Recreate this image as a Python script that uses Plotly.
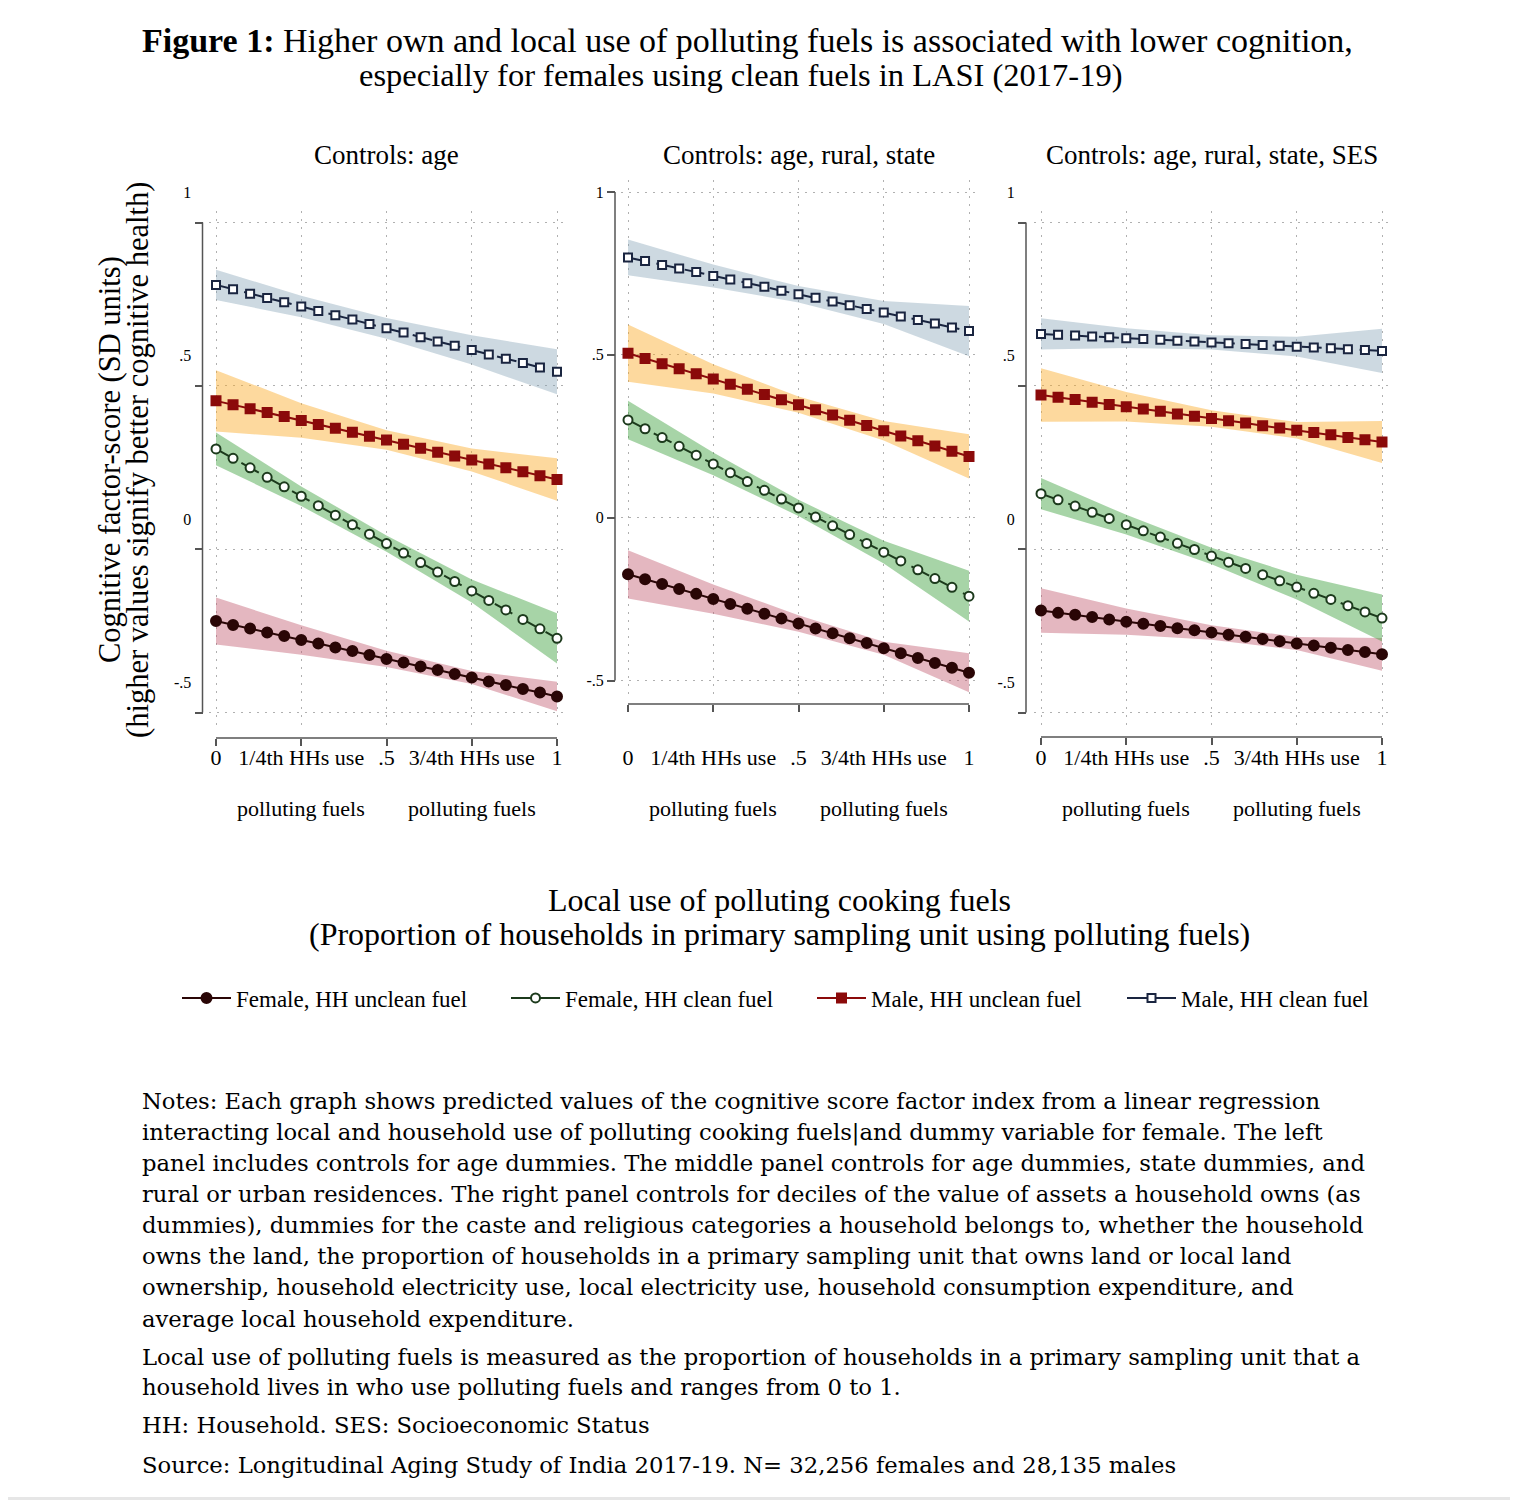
import plotly.graph_objects as go

# ---------------- DATA ----------------
X_LOCAL = [0.00, 0.05, 0.10, 0.15, 0.20, 0.25, 0.30, 0.35, 0.40, 0.45, 0.50,
           0.55, 0.60, 0.65, 0.70, 0.75, 0.80, 0.85, 0.90, 0.95, 1.00]
X_CI = [0.00, 0.25, 0.50, 0.75, 1.00]

X_TICKS = [0, 0.25, 0.5, 0.75, 1]
X_TICK_LABELS = ["0", "1/4th HHs use", ".5", "3/4th HHs use", "1"]
X_TICK_SUBLABELS = ["polluting fuels", "polluting fuels"]
X_TICK_SUB_AT = [0.25, 0.75]
Y_TICKS = [-0.5, 0, 0.5, 1]
Y_TICK_LABELS = ["-.5", "0", ".5", "1"]

PANEL_TITLES = ["Controls: age", "Controls: age, rural, state", "Controls: age, rural, state, SES"]
SERIES_NAMES = ["Female, HH unclean fuel", "Female, HH clean fuel", "Male, HH unclean fuel", "Male, HH clean fuel"]

# Panel 1: Controls: age
P1_FEM_UNCLEAN = [-0.220, -0.232, -0.243, -0.255, -0.266, -0.278, -0.289, -0.301, -0.312, -0.324, -0.336,
                  -0.347, -0.359, -0.370, -0.382, -0.393, -0.405, -0.416, -0.428, -0.439, -0.451]
P1_FEM_UNCLEAN_HI = [-0.148, -0.233, -0.311, -0.373, -0.406]
P1_FEM_UNCLEAN_LO = [-0.292, -0.323, -0.361, -0.413, -0.496]
P1_FEM_CLEAN = [0.307, 0.278, 0.249, 0.220, 0.191, 0.162, 0.133, 0.104, 0.075, 0.046, 0.017,
                -0.012, -0.041, -0.070, -0.099, -0.128, -0.157, -0.186, -0.215, -0.244, -0.273]
P1_FEM_CLEAN_HI = [0.357, 0.192, 0.042, -0.093, -0.196]
P1_FEM_CLEAN_LO = [0.257, 0.132, -0.008, -0.163, -0.350]
P1_MALE_UNCLEAN = [0.454, 0.442, 0.430, 0.418, 0.406, 0.394, 0.382, 0.370, 0.358, 0.346, 0.334,
                   0.321, 0.309, 0.297, 0.285, 0.273, 0.261, 0.249, 0.237, 0.225, 0.213]
P1_MALE_UNCLEAN_HI = [0.548, 0.447, 0.364, 0.308, 0.278]
P1_MALE_UNCLEAN_LO = [0.360, 0.341, 0.304, 0.238, 0.148]
P1_MALE_CLEAN = [0.809, 0.796, 0.782, 0.769, 0.756, 0.743, 0.729, 0.716, 0.703, 0.689, 0.676,
                 0.663, 0.649, 0.636, 0.623, 0.610, 0.596, 0.583, 0.570, 0.556, 0.543]
P1_MALE_CLEAN_HI = [0.855, 0.776, 0.708, 0.655, 0.612]
P1_MALE_CLEAN_LO = [0.763, 0.710, 0.644, 0.565, 0.474]

# Panel 2: Controls: age, rural, state
P2_FEM_UNCLEAN = [-0.174, -0.189, -0.204, -0.219, -0.234, -0.250, -0.265, -0.280, -0.295, -0.310, -0.325,
                  -0.340, -0.355, -0.370, -0.385, -0.401, -0.416, -0.431, -0.446, -0.461, -0.476]
P2_FEM_UNCLEAN_HI = [-0.100, -0.205, -0.300, -0.381, -0.416]
P2_FEM_UNCLEAN_LO = [-0.248, -0.295, -0.350, -0.421, -0.536]
P2_FEM_CLEAN = [0.300, 0.273, 0.246, 0.219, 0.192, 0.165, 0.138, 0.111, 0.084, 0.057, 0.030,
                0.002, -0.025, -0.052, -0.079, -0.106, -0.133, -0.160, -0.187, -0.214, -0.241]
P2_FEM_CLEAN_HI = [0.359, 0.200, 0.055, -0.071, -0.163]
P2_FEM_CLEAN_LO = [0.241, 0.130, 0.005, -0.141, -0.319]
P2_MALE_UNCLEAN = [0.505, 0.489, 0.473, 0.457, 0.442, 0.426, 0.410, 0.394, 0.378, 0.362, 0.347,
                   0.331, 0.315, 0.299, 0.283, 0.267, 0.251, 0.236, 0.220, 0.204, 0.188]
P2_MALE_UNCLEAN_HI = [0.593, 0.471, 0.372, 0.297, 0.256]
P2_MALE_UNCLEAN_LO = [0.417, 0.381, 0.322, 0.237, 0.120]
P2_MALE_CLEAN = [0.799, 0.788, 0.776, 0.765, 0.754, 0.742, 0.731, 0.720, 0.709, 0.697, 0.686,
                 0.675, 0.664, 0.652, 0.641, 0.630, 0.618, 0.607, 0.596, 0.584, 0.573]
P2_MALE_CLEAN_HI = [0.854, 0.777, 0.711, 0.665, 0.650]
P2_MALE_CLEAN_LO = [0.744, 0.707, 0.661, 0.595, 0.496]

# Panel 3: Controls: age, rural, state, SES
P3_FEM_UNCLEAN = [-0.188, -0.195, -0.201, -0.208, -0.215, -0.222, -0.228, -0.235, -0.242, -0.248, -0.255,
                  -0.262, -0.268, -0.275, -0.282, -0.289, -0.295, -0.302, -0.309, -0.315, -0.322]
P3_FEM_UNCLEAN_HI = [-0.120, -0.182, -0.233, -0.269, -0.272]
P3_FEM_UNCLEAN_LO = [-0.256, -0.262, -0.277, -0.309, -0.372]
P3_FEM_CLEAN = [0.170, 0.151, 0.132, 0.113, 0.094, 0.075, 0.056, 0.037, 0.018, -0.001, -0.021,
                -0.040, -0.059, -0.078, -0.097, -0.116, -0.135, -0.154, -0.173, -0.192, -0.211]
P3_FEM_CLEAN_HI = [0.218, 0.105, 0.004, -0.078, -0.139]
P3_FEM_CLEAN_LO = [0.122, 0.045, -0.046, -0.154, -0.283]
P3_MALE_UNCLEAN = [0.472, 0.465, 0.458, 0.450, 0.443, 0.436, 0.429, 0.422, 0.414, 0.407, 0.400,
                   0.393, 0.386, 0.378, 0.371, 0.364, 0.357, 0.350, 0.342, 0.335, 0.328]
P3_MALE_UNCLEAN_HI = [0.554, 0.481, 0.425, 0.389, 0.392]
P3_MALE_UNCLEAN_LO = [0.390, 0.391, 0.375, 0.339, 0.264]
P3_MALE_CLEAN = [0.659, 0.656, 0.654, 0.651, 0.649, 0.646, 0.643, 0.641, 0.638, 0.636, 0.633,
                 0.630, 0.628, 0.625, 0.623, 0.620, 0.617, 0.615, 0.612, 0.610, 0.607]
P3_MALE_CLEAN_HI = [0.707, 0.676, 0.655, 0.650, 0.675]
P3_MALE_CLEAN_LO = [0.611, 0.616, 0.611, 0.590, 0.539]

PANEL_DATA = [
    [(P1_FEM_UNCLEAN, P1_FEM_UNCLEAN_LO, P1_FEM_UNCLEAN_HI), (P1_FEM_CLEAN, P1_FEM_CLEAN_LO, P1_FEM_CLEAN_HI),
     (P1_MALE_UNCLEAN, P1_MALE_UNCLEAN_LO, P1_MALE_UNCLEAN_HI), (P1_MALE_CLEAN, P1_MALE_CLEAN_LO, P1_MALE_CLEAN_HI)],
    [(P2_FEM_UNCLEAN, P2_FEM_UNCLEAN_LO, P2_FEM_UNCLEAN_HI), (P2_FEM_CLEAN, P2_FEM_CLEAN_LO, P2_FEM_CLEAN_HI),
     (P2_MALE_UNCLEAN, P2_MALE_UNCLEAN_LO, P2_MALE_UNCLEAN_HI), (P2_MALE_CLEAN, P2_MALE_CLEAN_LO, P2_MALE_CLEAN_HI)],
    [(P3_FEM_UNCLEAN, P3_FEM_UNCLEAN_LO, P3_FEM_UNCLEAN_HI), (P3_FEM_CLEAN, P3_FEM_CLEAN_LO, P3_FEM_CLEAN_HI),
     (P3_MALE_UNCLEAN, P3_MALE_UNCLEAN_LO, P3_MALE_UNCLEAN_HI), (P3_MALE_CLEAN, P3_MALE_CLEAN_LO, P3_MALE_CLEAN_HI)],
]

TITLE_LINE1 = "<b>Figure 1:</b> Higher own and local use of polluting fuels is associated with lower cognition,"
TITLE_LINE2 = "especially for females using clean fuels in LASI (2017-19)"
Y_TITLE = ["Cognitive factor-score (SD units)", "(higher values signify better cognitive health)"]
X_TITLE = ["Local use of polluting cooking fuels",
           "(Proportion of households in primary sampling unit using polluting fuels)"]
NOTES_LINES = [
    "Notes: Each graph shows predicted values of the cognitive score factor index from a linear regression",
    "interacting local and household use of polluting cooking fuels|and dummy variable for female. The left",
    "panel includes controls for age dummies. The middle panel controls for age dummies, state dummies, and",
    "rural or urban residences. The right panel controls for deciles of the value of assets a household owns (as",
    "dummies), dummies for the caste and religious categories a household belongs to, whether the household",
    "owns the land, the proportion of households in a primary sampling unit that owns land or local land",
    "ownership, household electricity use, local electricity use, household consumption expenditure, and",
    "average local household expenditure.",
    "Local use of polluting fuels is measured as the proportion of households in a primary sampling unit that a",
    "household lives in who use polluting fuels and ranges from 0 to 1.",
    "HH: Household. SES: Socioeconomic Status",
    "Source: Longitudinal Aging Study of India 2017-19. N= 32,256 females and 28,135 males",
]

# ---------------- STYLE / LAYOUT ----------------
# the page has an 8px body margin: reference pixel (x, y) -> figure pixel (x-8, y-8);
# the figure is sized so that the page exactly fills the 1518x1508 window.
OX, OY = 8, 8
W, H = 1502, 1492
SERIF = "Liberation Serif"
NOTE_FONT = "DejaVu Serif"


def px_x(x):
    return (x - OX) / W


def px_y(y):
    return 1 - (y - OY) / H


STYLES = [
    dict(color="#2a0606", symbol="circle", size=10, fill="#2a0606", dash="solid",
         band="rgba(196,96,116,0.45)"),
    dict(color="#1c3a1c", symbol="circle", size=9, fill="white", dash="20px,9px",
         band="rgba(60,160,60,0.45)"),
    dict(color="#8b0a0a", symbol="square", size=9, fill="#8b0a0a", dash="solid",
         band="rgba(250,170,40,0.45)"),
    dict(color="#1a2540", symbol="square", size=8, fill="white", dash="20px,9px",
         band="rgba(130,160,180,0.40)"),
]

# pixel geometry of each panel (reference-image pixels)
GEOM = [
    dict(x0=216, x1=557, dl=209, dr=565, y1=222.5, ym=712.5, dt=211, db=729,
         yaxis_x=202.5, xaxis_y=738, ylab_shift=-30, xlab_standoff=-7),
    dict(x0=628, x1=969, dl=621, dr=977, y1=192, ym=680.5, dt=180, db=694,
         yaxis_x=615, xaxis_y=704, ylab_shift=0, xlab_standoff=27),
    dict(x0=1041, x1=1382, dl=1034, dr=1390, y1=222.5, ym=712.5, dt=211, db=729,
         yaxis_x=1026, xaxis_y=737, ylab_shift=-30, xlab_standoff=-6),
]

LEGEND_LINE_START = [183, 512, 818, 1128]

fig = go.Figure()
layout_axes = {}
shapes = []
annotations = []

for p, g in enumerate(GEOM):
    sfx = "" if p == 0 else str(p + 1)
    xref = "x" + sfx
    yref = "y" + sfx
    xu = g["x1"] - g["x0"]
    xr = [(g["dl"] - g["x0"]) / xu, 1 + (g["dr"] - g["x1"]) / xu]
    yu = (g["ym"] - g["y1"]) / 1.5
    yr = [-0.5 - (g["db"] - g["ym"]) / yu, 1 + (g["y1"] - g["dt"]) / yu]

    # bands
    for s, (mid, lo, hi) in enumerate(PANEL_DATA[p]):
        st = STYLES[s]
        fig.add_trace(go.Scatter(
            x=X_CI + X_CI[::-1], y=hi + lo[::-1], fill="toself", fillcolor=st["band"],
            line=dict(width=0), mode="lines", hoverinfo="skip", showlegend=False,
            xaxis=xref, yaxis=yref))
    # lines
    for s, (mid, lo, hi) in enumerate(PANEL_DATA[p]):
        st = STYLES[s]
        fig.add_trace(go.Scatter(
            x=X_LOCAL, y=mid, mode="lines+markers", name=SERIES_NAMES[s],
            legendgroup=SERIES_NAMES[s], showlegend=(p == 0),
            legend="legend" if s == 0 else "legend" + str(s + 1),
            line=dict(color=st["color"], width=2, dash=st["dash"]),
            marker=dict(symbol=st["symbol"], size=st["size"], color=st["fill"],
                        line=dict(color=st["color"], width=2)),
            xaxis=xref, yaxis=yref))

    layout_axes["xaxis" + sfx] = dict(
        domain=[px_x(g["dl"]), px_x(g["dr"])], range=xr, anchor="free",
        position=px_y(g["xaxis_y"]), tickvals=X_TICKS, ticktext=X_TICK_LABELS, tickangle=0,
        ticks="outside", ticklen=7, tickwidth=1.5, tickcolor="#555",
        showgrid=True, gridcolor="#b0b0b0", griddash="2px,6px", gridwidth=1,
        zeroline=False, showline=False, ticklabelstandoff=g["xlab_standoff"], automargin=False,
        tickfont=dict(family=SERIF, size=22, color="black"), fixedrange=True)
    layout_axes["yaxis" + sfx] = dict(
        domain=[px_y(g["db"]), px_y(g["dt"])], range=yr, anchor="free",
        position=px_x(g["yaxis_x"]), tickvals=Y_TICKS, ticktext=Y_TICK_LABELS,
        ticks="outside", ticklen=8, tickwidth=1.5, tickcolor="#555",
        showgrid=True, gridcolor="#b0b0b0", griddash="2px,6px", gridwidth=1,
        zeroline=False, showline=False, ticklabelshift=g["ylab_shift"], automargin=False,
        tickfont=dict(family=SERIF, size=16, color="black"), fixedrange=True)

    # axis lines
    shapes.append(dict(type="line", xref="paper", yref=yref,
                       x0=px_x(g["yaxis_x"]), x1=px_x(g["yaxis_x"]),
                       y0=Y_TICKS[0], y1=Y_TICKS[-1], line=dict(color="#555", width=1.5)))
    shapes.append(dict(type="line", xref=xref, yref="paper",
                       x0=X_TICKS[0], x1=X_TICKS[-1],
                       y0=px_y(g["xaxis_y"]), y1=px_y(g["xaxis_y"]), line=dict(color="#555", width=1.5)))

    # second line of tick labels
    for xv, txt in zip(X_TICK_SUB_AT, X_TICK_SUBLABELS):
        annotations.append(dict(x=xv, xref=xref, y=px_y(808), yref="paper", text=txt,
                                showarrow=False, font=dict(family=SERIF, size=22, color="black"),
                                xanchor="center", yanchor="middle"))
    # panel title
    annotations.append(dict(x=px_x((g["x0"] + g["x1"]) / 2), xref="paper", y=px_y(155), yref="paper",
                            text=PANEL_TITLES[p], showarrow=False,
                            font=dict(family=SERIF, size=27, color="black"),
                            xanchor="center", yanchor="middle"))

# figure title
annotations.append(dict(x=px_x(747), y=px_y(40), xref="paper", yref="paper", text=TITLE_LINE1,
                        showarrow=False, font=dict(family=SERIF, size=34, color="black"),
                        xanchor="center", yanchor="middle"))
annotations.append(dict(x=px_x(741), y=px_y(75), xref="paper", yref="paper", text=TITLE_LINE2,
                        showarrow=False, font=dict(family=SERIF, size=32.5, color="black"),
                        xanchor="center", yanchor="middle"))
# y title (two rotated lines)
for xpos, txt in zip([110, 138], Y_TITLE):
    annotations.append(dict(x=px_x(xpos), y=px_y(460), xref="paper", yref="paper", text=txt,
                            textangle=-90, showarrow=False,
                            font=dict(family=SERIF, size=30.5, color="black"),
                            xanchor="center", yanchor="middle"))
# x title
for ypos, txt in zip([900, 934], X_TITLE):
    annotations.append(dict(x=px_x(779), y=px_y(ypos), xref="paper", yref="paper", text=txt,
                            showarrow=False, font=dict(family=SERIF, size=32, color="black"),
                            xanchor="center", yanchor="middle"))
# notes
NOTE_Y = [1101, 1132, 1163, 1194, 1225, 1256, 1287, 1319, 1357, 1387, 1425, 1465]
for ypos, txt in zip(NOTE_Y, NOTES_LINES):
    annotations.append(dict(x=px_x(140), y=px_y(ypos), xref="paper", yref="paper", text=txt,
                            showarrow=False, font=dict(family=NOTE_FONT, size=22.7, color="black"),
                            xanchor="left", yanchor="middle"))

# page frame: light grey strip at the bottom
shapes.append(dict(type="rect", xref="paper", yref="paper", x0=0, x1=1, y0=0, y1=px_y(1497),
                   fillcolor="#e6e6e6", line=dict(width=0), layer="below"))

legends = {}
for i, xs in enumerate(LEGEND_LINE_START):
    key = "legend" if i == 0 else "legend" + str(i + 1)
    legends[key] = dict(orientation="h", x=px_x(xs - 6), xanchor="left", y=px_y(998), yanchor="middle",
                        font=dict(family=SERIF, size=23, color="black"), bgcolor="rgba(0,0,0,0)",
                        itemwidth=49, borderwidth=0)

fig.update_layout(
    width=W, height=H, margin=dict(l=0, r=0, t=0, b=0, pad=0, autoexpand=False),
    paper_bgcolor="white", plot_bgcolor="white",
    showlegend=True,
    shapes=shapes, annotations=annotations,
    **legends,
    **layout_axes,
)

fig.write_html("out.html")
